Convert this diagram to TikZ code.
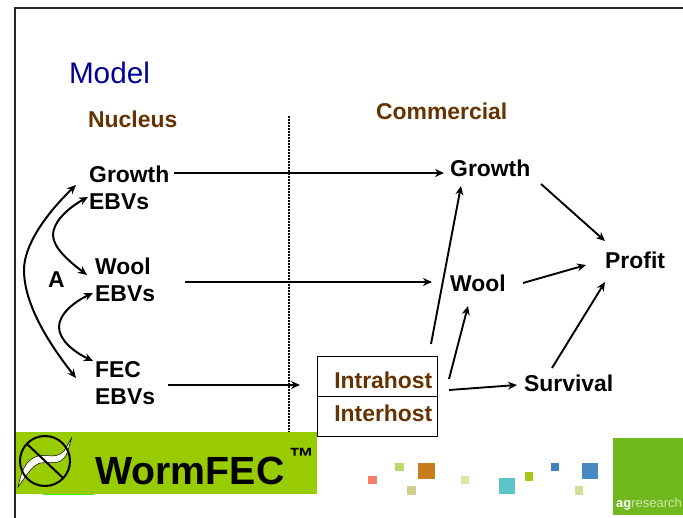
\documentclass[tikz,border=0pt]{standalone}
\usepackage{fontspec}
\setmainfont{Liberation Sans}
\usetikzlibrary{arrows.meta,calc}
\definecolor{brownlab}{HTML}{663300}
\definecolor{modelblue}{HTML}{000099}
\definecolor{banner}{HTML}{99CC00}
\definecolor{agsoft}{HTML}{D0E8AC}
\tikzset{
  x=1pt,y=-1pt,
  lab/.style={anchor=base west,inner sep=0pt,font=\fontsize{22.9}{27.3}\selectfont\bfseries,align=left},
  sublab/.style={lab,text=brownlab},
  arr/.style={line width=1.9pt,-{Stealth[length=9pt,width=8pt]}},
  dbl/.style={line width=2pt,{Stealth[length=9pt,width=8pt]}-{Stealth[length=9pt,width=8pt]}},
  hostbox/.style={draw=black,line width=1pt,fill=white,minimum width=120pt,minimum height=40pt,inner sep=0pt,anchor=north west},
  sq/.style={draw=none},
}
\begin{document}
\begin{tikzpicture}
\useasboundingbox (0,0) rectangle (683,518);
\fill[white] (0,0) rectangle (683,518);
% slide frame
\draw[black!85,line width=2.4pt] (14.8,518) -- (14.8,8.2) -- (683,8.2);
% titles
\node[anchor=base west,inner sep=0pt,text=modelblue,font=\fontsize{29.7}{32}\selectfont] (model) at (68.8,83.5) {Model};
\node[sublab] (nucleus) at (88,127.5) {Nucleus};
\node[sublab] (commercial) at (376,119.5) {Commercial};
% divider
\coordinate (divtop) at (289,116);
\coordinate (divbot) at (289,434);
\draw[black,line width=1.7pt,dash pattern=on 1.7pt off 1.3pt] (divtop) -- (divbot);
% left labels (base anchor of a two-line node is its last line)
\node[lab] (gn) at (89,209.5) {Growth\\EBVs};
\node[lab] (wn) at (95,301.5) {Wool\\EBVs};
\node[lab] (fn) at (95,404.5) {FEC\\EBVs};
\node[lab] (a) at (48,288) {A};
% right labels
\node[lab] (gc) at (450,176.5) {Growth};
\node[lab] (wc) at (450,291.5) {Wool};
\node[lab] (pr) at (605,268.5) {Profit};
\node[lab] (su) at (524,391.5) {Survival};
% boxes
\node[hostbox] (b1) at (317,356) {};
\node[hostbox] (b2) at (317,396) {};
\node[sublab,anchor=base east] (intra) at (432.5,388.5) {Intrahost};
\node[sublab,anchor=base east] (inter) at (432.5,421.5) {Interhost};
% connectors
\coordinate (g0) at (174,173); \coordinate (g1) at (444,173);
\coordinate (w0) at (185,282); \coordinate (w1) at (432,282);
\coordinate (f0) at (168,385); \coordinate (f1) at (300,385);
\draw[arr] (g0) -- (g1);
\draw[arr] (w0) -- (w1);
\draw[arr] (f0) -- (f1);
\coordinate (gp0) at (541,184); \coordinate (gp1) at (605,241);
\coordinate (wp0) at (523,283); \coordinate (wp1) at (586,265);
\coordinate (sp0) at (552,368); \coordinate (sp1) at (605,282);
\draw[arr] (gp0) -- (gp1);
\draw[arr] (wp0) -- (wp1);
\draw[arr] (sp0) -- (sp1);
\coordinate (ig0) at (431,344); \coordinate (ig1) at (461,186);
\coordinate (iw0) at (449,379); \coordinate (iw1) at (468,306);
\coordinate (is0) at (449,390); \coordinate (is1) at (517,385);
\draw[arr] (ig0) -- (ig1);
\draw[arr] (iw0) -- (iw1);
\draw[arr] (is0) -- (is1);
% correlation curves
\coordinate (c1a) at (76,185); \coordinate (c1b) at (76,378);
\coordinate (c2a) at (88,197); \coordinate (c2b) at (87,275);
\coordinate (c3a) at (93,293); \coordinate (c3b) at (93,361);
\draw[dbl] (c1a) .. controls (46,214) and (24,245) .. (24,270) .. controls (24,305) and (50,345) .. (c1b);
\draw[dbl] (c2a) .. controls (68,208) and (53,222) .. (53,235) .. controls (53,248) and (70,262) .. (c2b);
\draw[dbl] (c3a) .. controls (74,302) and (59,314) .. (59,327) .. controls (59,340) and (74,352) .. (c3b);
% banner
\fill[banner] (16,432) rectangle (317,494);
\fill[green!50!banner] (43,494) rectangle (94,495);
\node[anchor=base west,inner sep=0pt,font=\fontsize{39.3}{42}\selectfont\bfseries] (wf) at (95,484) {WormFEC};
\node[anchor=base west,inner sep=0pt,font=\fontsize{25}{27}\selectfont\bfseries] (tm) at (289,465) {™};
% logo
\fill[white,draw=black,line width=.5pt] (18,487) .. controls (22,470) and (25,462) .. (35,457) .. controls (45,452) and (58,462) .. (66,448) -- (72,437) -- (67,453) .. controls (60,470) and (45,458) .. (36,465) .. controls (28,471) and (25,478) .. cycle;
\draw[black,line width=2pt] (45,461) circle (25);
\draw[black,line width=2pt] (27,444) -- (63,478);
% decorative squares
\fill[sq,fill={rgb,255:red,245;green,128;blue,104}] (368.3,475.7) rectangle (376.7,483.7);
\fill[sq,fill={rgb,255:red,187;green,217;blue,107}] (395,463) rectangle (404,471);
\fill[sq,fill={rgb,255:red,201;green,124;blue,28}] (418,463) rectangle (435,479.5);
\fill[sq,fill={rgb,255:red,211;green,206;blue,140}] (407,486) rectangle (416,495);
\fill[sq,fill={rgb,255:red,221;green,229;blue,165}] (461,476) rectangle (469,484);
\fill[sq,fill={rgb,255:red,92;green,196;blue,200}] (499,478) rectangle (515,494);
\fill[sq,fill={rgb,255:red,163;green,200;blue,26}] (525,472) rectangle (533,481);
\fill[sq,fill={rgb,255:red,63;green,130;blue,191}] (551,463) rectangle (559,471);
\fill[sq,fill={rgb,255:red,74;green,136;blue,196}] (582,463) rectangle (598,479);
\fill[sq,fill={rgb,255:red,208;green,224;blue,154}] (575,486) rectangle (583,495);
\fill[sq,fill={rgb,255:red,112;green,184;blue,30}] (613,438) rectangle (683,515);
\node[anchor=base west,inner sep=0pt,text=white,font=\fontsize{13}{15}\selectfont] (ag) at (616,507.5) {\textbf{ag}\textcolor{agsoft}{research}};
\end{tikzpicture}
\end{document}
